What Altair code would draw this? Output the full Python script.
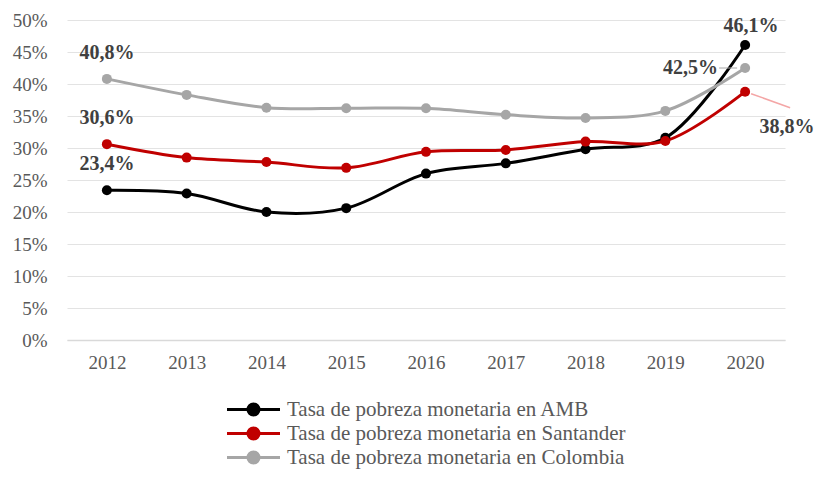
import altair as alt
import pandas as pd

years = ["2012", "2013", "2014", "2015", "2016", "2017", "2018", "2019", "2020"]
amb = [23.4, 22.9, 20.0, 20.6, 26.0, 27.6, 29.8, 31.6, 46.1]
santander = [30.6, 28.5, 27.8, 26.9, 29.4, 29.7, 31.0, 31.1, 38.8]
colombia = [40.8, 38.3, 36.3, 36.2, 36.2, 35.2, 34.7, 35.8, 42.5]
series = [
    "Tasa de pobreza monetaria en AMB",
    "Tasa de pobreza monetaria en Santander",
    "Tasa de pobreza monetaria en Colombia",
]
colors = ["#000000", "#c00000", "#a6a6a6"]

rows = []
for name, vals in zip(series, [amb, santander, colombia]):
    for y, v in zip(years, vals):
        rows.append({"year": y, "value": v / 100, "serie": name,
                     "label": (f"{v:.1f}".replace(".", ",") + "%")})
df = pd.DataFrame(rows)

FONT = "Liberation Serif"

x_enc = alt.X("year:N", sort=years, title=None,
              scale=alt.Scale(type="point", padding=0.5),
              axis=alt.Axis(labelAngle=0, labelFont=FONT, labelFontSize=19,
                            labelColor="#595959", ticks=False, domain=True,
                            domainColor="#d9d9d9", domainWidth=1.5, labelPadding=13, grid=False))
y_enc = alt.Y("value:Q", title=None,
              scale=alt.Scale(domain=[0, 0.5], nice=False),
              axis=alt.Axis(format=".0%", values=[i / 100 for i in range(0, 51, 5)],
                            labelOverlap=False, tickCount=11,
                            labelFont=FONT, labelFontSize=19, labelColor="#595959",
                            ticks=False, domain=False, gridColor="#e3e3e3", gridWidth=1,
                            labelPadding=20))
color_enc = alt.Color("serie:N", sort=series,
                      scale=alt.Scale(domain=series, range=colors),
                      legend=alt.Legend(title=None, orient="none", legendX=176, legendY=379,
                                        direction="vertical", labelFont=FONT, labelFontSize=21,
                                        labelColor="#595959", rowPadding=1, labelLimit=700,
                                        symbolType="M-5.3,0H-1.1A1.1,1.1 0 1,1 1.1,0H5.3M1.1,0A1.1,1.1 0 1,1 -1.1,0",
                                        symbolSize=100, symbolStrokeWidth=3, labelOffset=23))

base = alt.Chart(df)
lines = base.mark_line(interpolate="catmull-rom", strokeWidth=3).encode(
    x=x_enc, y=y_enc, color=color_enc)
points = base.mark_circle(size=100, opacity=1).encode(
    x=x_enc, y=y_enc, color=alt.Color("serie:N", legend=None))

lab_style = dict(font=FONT, fontSize=20, fontWeight="bold", color="#404040")
first_labels = base.transform_filter(alt.datum.year == "2012").mark_text(
    dy=-26, **lab_style).encode(x=x_enc, y=y_enc, text="label:N")
amb_last = base.transform_filter(
    (alt.datum.year == "2020") & (alt.datum.serie == series[0])).mark_text(
    dy=-19, dx=6, **lab_style).encode(x=x_enc, y=y_enc, text="label:N")
col_last = base.transform_filter(
    (alt.datum.year == "2020") & (alt.datum.serie == series[2])).mark_text(
    dx=-27, align="right", **lab_style).encode(x=x_enc, y=y_enc, text="label:N")
san_last = base.transform_filter(
    (alt.datum.year == "2020") & (alt.datum.serie == series[1])).mark_text(
    dx=42, dy=35, **lab_style).encode(x=x_enc, y=y_enc, text="label:N")

col_leader = base.transform_filter(
    (alt.datum.year == "2020") & (alt.datum.serie == series[2])).mark_rule(
    color="#a6a6a6", strokeWidth=1, xOffset=-26, x2Offset=-8).encode(
    x=x_enc, x2="year:N", y=y_enc)
san_leader = base.transform_filter(
    (alt.datum.year == "2020") & (alt.datum.serie == series[1])).mark_rule(
    color="#f4a6a6", strokeWidth=1.5, xOffset=6, x2Offset=45, yOffset=2, y2Offset=16).encode(
    x=x_enc, x2="year:N", y=y_enc, y2="value:Q")

chart = alt.layer(lines, points, first_labels, amb_last, col_last, san_last,
                  col_leader, san_leader).properties(
    width=718, height=320,
    autosize=alt.AutoSizeParams(type="none"),
    padding={"left": 59, "top": 12, "right": 30, "bottom": 130},
).configure_view(stroke=None)

chart.save("out.html", embed_options={"renderer": "svg", "actions": False})
